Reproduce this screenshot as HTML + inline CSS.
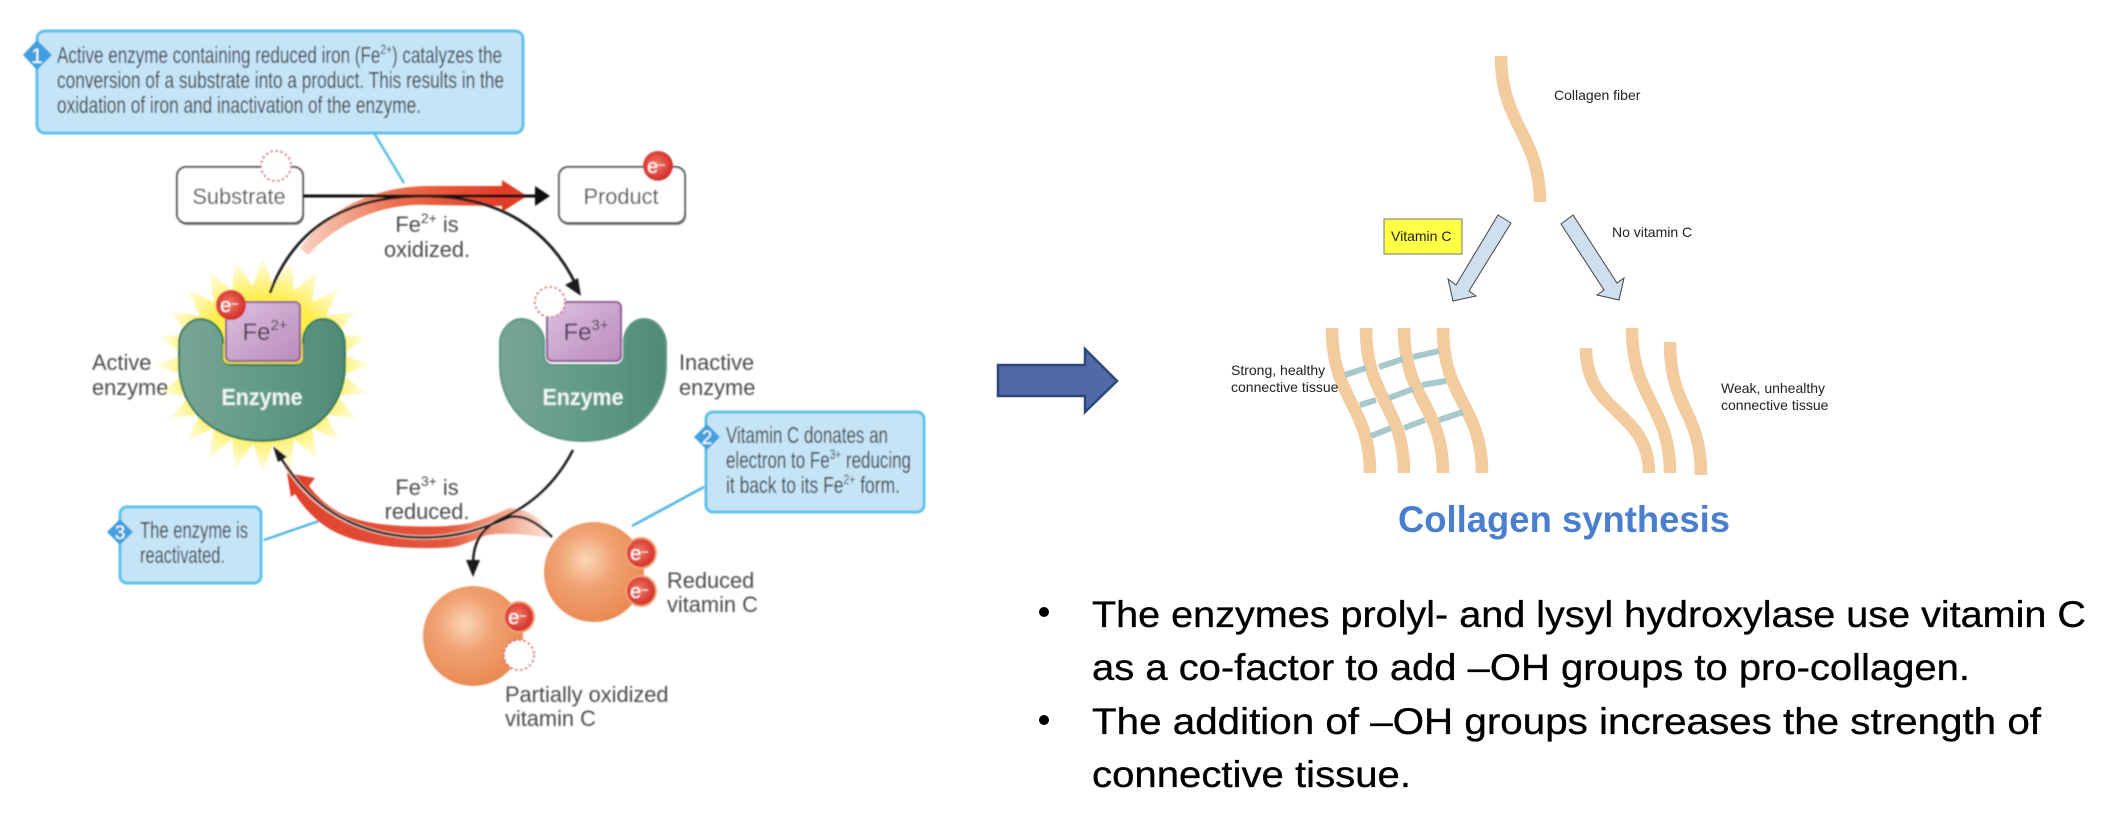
<!DOCTYPE html>
<html><head><meta charset="utf-8"><style>
html,body{margin:0;padding:0;background:#fff}
svg{display:block}
text{font-family:"Liberation Sans",sans-serif}
.t{fill:#333;font-size:23.5px}
.l{fill:#4c4c4c;font-size:21.8px}
.c{fill:#222;font-size:14px}
.b{fill:#000;font-size:37.5px;stroke:#000;stroke-width:.35px}
.e{fill:#fff;font-size:20px;text-anchor:middle}
</style></head><body>
<svg xmlns="http://www.w3.org/2000/svg" width="2116" height="825" viewBox="0 0 2116 825">
<defs>
<radialGradient id="red" cx=".45" cy=".45" r=".6"><stop offset="0" stop-color="#ee7a68"/><stop offset="1" stop-color="#d1231f"/></radialGradient>
<radialGradient id="org" cx=".42" cy=".38" r=".62"><stop offset="0" stop-color="#fbd6b8"/><stop offset=".45" stop-color="#f0a272"/><stop offset="1" stop-color="#e98a53"/></radialGradient>
<radialGradient id="sun" gradientUnits="userSpaceOnUse" cx="0" cy="0" r="108"><stop offset=".6" stop-color="#ffee44"/><stop offset=".78" stop-color="#fff490"/><stop offset="1" stop-color="#fffef0"/></radialGradient>
<linearGradient id="enz" x1="0" x2="1" y1="0" y2="0"><stop offset="0" stop-color="#78a596"/><stop offset=".5" stop-color="#619a88"/><stop offset="1" stop-color="#4f8a78"/></linearGradient>
<linearGradient id="pur" x1="0" x2="1" y1="0" y2="1"><stop offset="0" stop-color="#dcc0de"/><stop offset="1" stop-color="#b98cbc"/></linearGradient>
<linearGradient id="r1" gradientUnits="userSpaceOnUse" x1="300" x2="500" y1="0" y2="0"><stop offset="0" stop-color="#f8d5c4"/><stop offset=".5" stop-color="#ec6a48"/><stop offset="1" stop-color="#e23d28"/></linearGradient>
<linearGradient id="r2" gradientUnits="userSpaceOnUse" x1="290" x2="550" y1="0" y2="0"><stop offset="0" stop-color="#e0412c"/><stop offset=".6" stop-color="#e4553c"/><stop offset=".8" stop-color="#f09a80"/><stop offset="1" stop-color="#fce6dc"/></linearGradient>
<filter id="bl" x="-5%" y="-5%" width="110%" height="110%"><feGaussianBlur stdDeviation=".7"/></filter>
<filter id="bs" x="-5%" y="-5%" width="110%" height="110%"><feGaussianBlur stdDeviation=".35"/></filter>
</defs>
<rect width="2116" height="825" fill="#fff"/>

<g filter="url(#bl)">
<!-- box 1 -->
<rect x="37" y="31" width="486" height="102" rx="8" fill="#c5e5f7" stroke="#5bc0e8" stroke-width="3"/>
<polygon points="37,40 52,55 37,70 23,55" fill="#3f9fe0"/>
<text x="37" y="63" font-size="21" fill="#fff" text-anchor="middle">1</text>
<text class="t" x="57" y="63" textLength="445" lengthAdjust="spacingAndGlyphs">Active enzyme containing reduced iron (Fe<tspan font-size="14" dy="-9">2+</tspan><tspan dy="9">) catalyzes the</tspan></text>
<text class="t" x="57" y="88" textLength="447" lengthAdjust="spacingAndGlyphs">conversion of a substrate into a product. This results in the</text>
<text class="t" x="57" y="113" textLength="364" lengthAdjust="spacingAndGlyphs">oxidation of iron and inactivation of the enzyme.</text>
<line x1="374" y1="133" x2="404" y2="183" stroke="#5bbfe0" stroke-width="2.5"/>

<!-- substrate/product -->
<rect x="178" y="169" width="126" height="56" rx="9" fill="#888"/>
<rect x="560" y="169" width="126" height="56" rx="9" fill="#888"/>
<rect x="177" y="167" width="126" height="56" rx="9" fill="#fff" stroke="#555" stroke-width="2"/>
<rect x="559" y="167" width="126" height="56" rx="9" fill="#fff" stroke="#555" stroke-width="2"/>
<text x="239" y="204" class="l" text-anchor="middle">Substrate</text>
<text x="621" y="204" class="l" text-anchor="middle">Product</text>
<circle cx="276" cy="166" r="15" fill="#fff" stroke="#d8606a" stroke-width="1.8" stroke-dasharray="2.5 2.5"/>
<circle cx="658" cy="166" r="15" fill="url(#red)"/><text class="e" x="656" y="173">e<tspan font-size="12" dy="-5">–</tspan></text>

<!-- red arc 1 -->
<path d="M300 248 C330 205 380 186 430 186 L502 186 L502 180 L527 196 L502 212 L502 206 L430 205 C380 202 335 225 308 255 Z" fill="url(#r1)"/>
<line x1="303" y1="196" x2="540" y2="196" stroke="#111" stroke-width="3"/>
<polygon points="550,196 535,186 535,206" fill="#111"/>
<text class="l" x="427" y="232" text-anchor="middle">Fe<tspan font-size="14" dy="-9">2+</tspan><tspan dy="9"> is</tspan></text>
<text class="l" x="427" y="257" text-anchor="middle">oxidized.</text>

<!-- active enzyme -->
<polygon transform="translate(263 365)" fill="url(#sun)" points="108,0 79,10 104,28 74,31 94,54 63,49 76,76 49,63 54,94 31,74 28,104 10,79 0,108 -10,79 -28,104 -31,74 -54,94 -49,63 -76,76 -63,49 -94,54 -74,31 -104,28 -79,10 -108,0 -79,-10 -104,-28 -74,-31 -94,-54 -63,-49 -76,-76 -49,-63 -54,-94 -31,-74 -28,-104 -10,-79 0,-108 10,-79 28,-104 31,-74 54,-94 49,-63 76,-76 63,-49 94,-54 74,-31 104,-28 79,-10"/>
<path d="M270 293 C295 225 350 196 424 196 C500 196 550 230 576 285" fill="none" stroke="#1a1a1a" stroke-width="2.8"/>
<polygon points="581,296 565,285 578,278" fill="#1a1a1a"/>
<path d="M179 343 C179 330 190 319 200 319 C213 319 222 330 223 340 L223 355 Q223 365 233 365 L293 365 Q303 365 303 355 L303 340 C304 328 312 319 323 319 C336 319 345 332 345 345 L345 365 C345 410 310 441 262 441 C215 441 179 410 179 365 Z" fill="url(#enz)" stroke="#2f7a58" stroke-width="2"/>
<rect x="223" y="340" width="80" height="24" rx="6" fill="#e8d838"/>
<rect x="226" y="302" width="74" height="59" rx="5" fill="url(#pur)" stroke="#8e5d96" stroke-width="2"/>
<circle cx="231" cy="305" r="15" fill="url(#red)"/><text class="e" x="229" y="312">e<tspan font-size="12" dy="-5">–</tspan></text>
<text x="265" y="340" fill="#4a3a50" font-size="24" text-anchor="middle">Fe<tspan font-size="15" dy="-10">2+</tspan></text>
<text x="262" y="405" fill="#eef5f2" font-size="23" font-weight="bold" text-anchor="middle" textLength="81" lengthAdjust="spacingAndGlyphs">Enzyme</text>
<text class="l" x="92" y="370">Active</text>
<text class="l" x="92" y="395">enzyme</text>

<!-- inactive enzyme -->
<path transform="translate(321 0)" d="M179 343 C179 330 190 319 200 319 C213 319 222 330 223 340 L223 355 Q223 365 233 365 L293 365 Q303 365 303 355 L303 340 C304 328 312 319 323 319 C336 319 345 332 345 345 L345 365 C345 410 310 441 262 441 C215 441 179 410 179 365 Z" fill="url(#enz)" stroke="#5f9685" stroke-width="2"/>
<rect x="547" y="302" width="74" height="59" rx="5" fill="url(#pur)" stroke="#8e5d96" stroke-width="2"/>
<circle cx="550" cy="302" r="15" fill="#fff" stroke="#d8606a" stroke-width="1.8" stroke-dasharray="2.5 2.5"/>
<text x="586" y="340" fill="#4a3a50" font-size="24" text-anchor="middle">Fe<tspan font-size="15" dy="-10">3+</tspan></text>
<text x="583" y="405" fill="#eef5f2" font-size="23" font-weight="bold" text-anchor="middle" textLength="81" lengthAdjust="spacingAndGlyphs">Enzyme</text>
<text class="l" x="679" y="370">Inactive</text>
<text class="l" x="679" y="395">enzyme</text>

<!-- box 2 -->
<rect x="706" y="412" width="218" height="100" rx="7" fill="#c5e5f7" stroke="#5bc0e8" stroke-width="3"/>
<polygon points="707,424 720,437 707,450 694,437" fill="#3f9fe0"/>
<text x="707" y="444" font-size="19" fill="#fff" text-anchor="middle">2</text>
<text class="t" x="726" y="443" textLength="162" lengthAdjust="spacingAndGlyphs">Vitamin C donates an</text>
<text class="t" x="726" y="468" textLength="185" lengthAdjust="spacingAndGlyphs">electron to Fe<tspan font-size="14" dy="-9">3+</tspan><tspan dy="9"> reducing</tspan></text>
<text class="t" x="726" y="493" textLength="174" lengthAdjust="spacingAndGlyphs">it back to its Fe<tspan font-size="14" dy="-9">2+</tspan><tspan dy="9"> form.</tspan></text>
<line x1="704" y1="487" x2="632" y2="526" stroke="#4eb4e8" stroke-width="2.5"/>

<!-- box 3 -->
<rect x="120" y="507" width="141" height="76" rx="7" fill="#c5e5f7" stroke="#5bc0e8" stroke-width="3"/>
<polygon points="120,519 133,532 120,545 107,532" fill="#3f9fe0"/>
<text x="120" y="539" font-size="19" fill="#fff" text-anchor="middle">3</text>
<text class="t" x="140" y="538" textLength="108" lengthAdjust="spacingAndGlyphs">The enzyme is</text>
<text class="t" x="140" y="563" textLength="85" lengthAdjust="spacingAndGlyphs">reactivated.</text>
<line x1="264" y1="540" x2="319" y2="521" stroke="#4eb4e8" stroke-width="2.5"/>

<!-- red arc 2 -->
<path d="M287 473 L315 478 L309 486 C322 503 338 514 353 518 C370 524 388 525 403 526 C430 527 450 527 470 523 C485 519 498 513 510 508 C522 508 532 514 540 520 L550 538 C530 535 510 532 487 535 C470 542 460 546 453 547 C430 549 405 548 387 546 C365 543 350 539 337 533 C320 525 305 510 295 494 L291 497 Z" fill="url(#r2)"/>
<path d="M285 464 C310 505 350 532 410 537 C450 540 480 530 510 517" fill="none" stroke="#f0c8b8" stroke-width="4.5"/>
<path d="M281 458 C310 505 350 532 410 537 C450 540 480 530 510 517 C525 514 540 525 552 537" fill="none" stroke="#1a1a1a" stroke-width="2.5"/>
<polygon points="273,446 287,457 278,462" fill="#1a1a1a"/>
<path d="M573 450 C555 485 530 505 503 518 C483 527 473 540 473 565" fill="none" stroke="#1a1a1a" stroke-width="2.5"/>
<polygon points="473,577 466,560 480,560" fill="#1a1a1a"/>
<text class="l" x="427" y="495" text-anchor="middle">Fe<tspan font-size="14" dy="-9">3+</tspan><tspan dy="9"> is</tspan></text>
<text class="l" x="427" y="519" text-anchor="middle">reduced.</text>

<!-- vitamin C -->
<circle cx="594" cy="572" r="50" fill="url(#org)"/>
<circle cx="641" cy="553" r="15" fill="url(#red)" stroke="#f0a272" stroke-width="2"/><text class="e" x="639" y="560">e<tspan font-size="12" dy="-5">–</tspan></text>
<circle cx="641" cy="591" r="15" fill="url(#red)" stroke="#f0a272" stroke-width="2"/><text class="e" x="639" y="598">e<tspan font-size="12" dy="-5">–</tspan></text>
<text class="l" x="667" y="588">Reduced</text>
<text class="l" x="667" y="612">vitamin C</text>
<circle cx="473" cy="636" r="50" fill="url(#org)"/>
<circle cx="519" cy="617" r="15" fill="url(#red)" stroke="#f0a272" stroke-width="2"/><text class="e" x="517" y="624">e<tspan font-size="12" dy="-5">–</tspan></text>
<circle cx="519" cy="655" r="15" fill="#fff" stroke="#d8606a" stroke-width="1.8" stroke-dasharray="2.5 2.5"/>
<text class="l" x="505" y="702">Partially oxidized</text>
<text class="l" x="505" y="726">vitamin C</text>
</g>

<!-- big arrow -->
<polygon points="998,365 1085,365 1085,349 1117,381 1085,412 1085,396 998,396" fill="#4f69a8" stroke="#30477c" stroke-width="2.5"/>

<g filter="url(#bs)">
<!-- collagen fibers -->
<g fill="none" stroke="#f2cb9f" stroke-width="12.5">
<path d="M1501 56 C1501 125 1540 135 1540 202"/>
<path d="M1332 328 C1332 400 1370 405 1370 473"/>
<path d="M1366 328 C1366 400 1404 405 1404 473"/>
<path d="M1404 328 C1404 400 1443 405 1443 473"/>
<path d="M1443 328 C1443 400 1482 405 1482 473"/>
<path d="M1586 348 C1586 415 1649 410 1649 473"/>
<path d="M1632 328 C1632 400 1670 405 1670 473"/>
<path d="M1670 342 C1670 410 1701 410 1701 475"/>
</g>
<g fill="none" stroke="#a9c8cc" stroke-width="6">
<line x1="1345" y1="375" x2="1366" y2="368"/><line x1="1379" y1="367" x2="1403" y2="359"/><line x1="1413" y1="357" x2="1439" y2="351"/>
<line x1="1360" y1="405" x2="1376" y2="400"/><line x1="1389" y1="398" x2="1413" y2="389"/><line x1="1422" y1="385" x2="1446" y2="381"/>
<line x1="1371" y1="436" x2="1391" y2="428"/><line x1="1404" y1="428" x2="1425" y2="420"/><line x1="1439" y1="420" x2="1463" y2="412"/>
</g>
<polygon points="1498,215 1511,223 1469,291 1476,296 1453,301 1448,279 1456,285" fill="#cfdfef" stroke="#444" stroke-width="1"/>
<polygon points="1573,215 1561,224 1604,290 1597,295 1619,300 1624,278 1617,283" fill="#cfdfef" stroke="#444" stroke-width="1"/>
<rect x="1384" y="219" width="78" height="35" fill="#ffff44" stroke="#777" stroke-width="1"/>
<text class="c" x="1391" y="241">Vitamin C</text>
<text class="c" x="1554" y="100">Collagen fiber</text>
<text class="c" x="1612" y="237">No vitamin C</text>
<text class="c" x="1231" y="375">Strong, healthy</text>
<text class="c" x="1231" y="392">connective tissue</text>
<text class="c" x="1721" y="393">Weak, unhealthy</text>
<text class="c" x="1721" y="410">connective tissue</text>
</g>

<text x="1398" y="532" font-size="37" font-weight="bold" fill="#4a7fd0" textLength="332" lengthAdjust="spacingAndGlyphs">Collagen synthesis</text>

<circle cx="1044" cy="612" r="5" fill="#000"/>
<circle cx="1044" cy="720" r="5" fill="#000"/>
<text class="b" x="1092" y="627" textLength="994" lengthAdjust="spacingAndGlyphs">The enzymes prolyl- and lysyl hydroxylase use vitamin C</text>
<text class="b" x="1092" y="680" textLength="878" lengthAdjust="spacingAndGlyphs">as a co-factor to add –OH groups to pro-collagen.</text>
<text class="b" x="1092" y="734" textLength="949" lengthAdjust="spacingAndGlyphs">The addition of –OH groups increases the strength of</text>
<text class="b" x="1092" y="787" textLength="319" lengthAdjust="spacingAndGlyphs">connective tissue.</text>
</svg>
</body></html>
